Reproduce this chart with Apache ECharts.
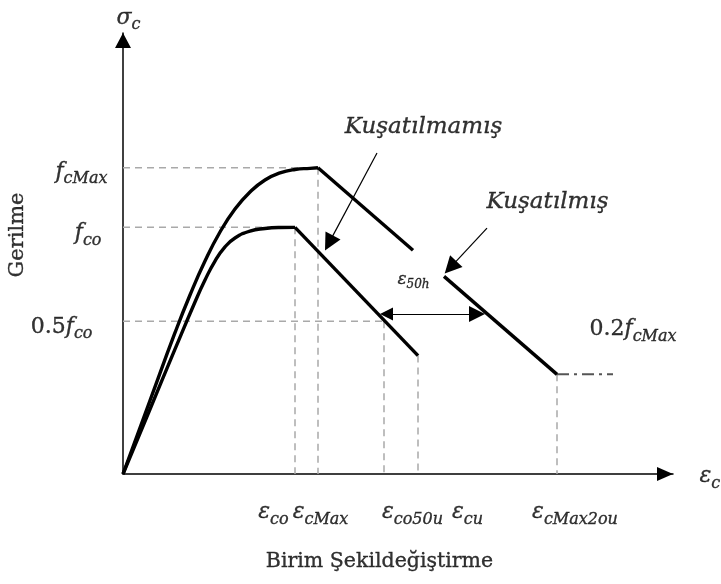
<!DOCTYPE html>
<html>
<head>
<meta charset="utf-8">
<script src="https://cdn.jsdelivr.net/npm/echarts@6/dist/echarts.min.js"></script>
<style>
  html, body { margin: 0; padding: 0; background: #fff; }
  #chart { width: 721px; height: 584px; }
</style>
</head>
<body>
<div id="chart"></div>
<script>
// Characteristic strains (horizontal axis)
const strainNames  = ['ε_co', 'ε_cMax', 'ε_co50u', 'ε_cu', 'ε_cMax2ou'];
const strainValues = [3.44, 3.90, 5.22, 5.90, 8.68];

// Characteristic stresses (vertical axis)
const stressNames  = ['f_cMax', 'f_co', '0.5f_co', '0.2f_cMax'];
const stressValues = [37.5, 30.2, 18.7, 12.2];

// Unconfined concrete: ascending branch, then linear softening
const unconfinedRiseX = [0, 0.54, 1.04, 1.44, 1.64, 1.84, 2.04, 2.24, 2.54, 2.84, 3.14, 3.44];
const unconfinedRiseY = [0, 7.93, 15.28, 21.06, 23.75, 26.08, 27.8, 28.9, 29.75, 30.06, 30.18, 30.2];
const unconfinedFallX = [3.44, 5.90];
const unconfinedFallY = [30.2, 14.5];

// Confined concrete: ascending branch, softening line (broken around ε50h), residual plateau
const confinedRiseX = [0, 0.54, 1.04, 1.34, 1.64, 1.94, 2.24, 2.54, 2.84, 3.14, 3.44, 3.74, 3.9];
const confinedRiseY = [0, 9.0, 17.3, 21.92, 26.08, 29.63, 32.45, 34.53, 36.0, 36.86, 37.29, 37.43, 37.5];
const confinedFallAX = [3.9, 5.8];
const confinedFallAY = [37.5, 27.4];
const confinedFallBX = [6.42, 8.68];
const confinedFallBY = [24.2, 12.2];
const residualX = [8.68, 9.8];
const residualY = [12.2, 12.2];

// ---------- layout: where the annotations sit (data coordinates) ----------
const strainLabelAt = [3.02, 3.96, 5.8, 6.9, 9.05];
const strainLabelY = -4.8;
const stressLabelAt = [[-0.3, 36.9], [-0.42, 29.4], [-0.6, 17.9], [9.34, 17.6]];

const zip = (xs, ys) => xs.map((x, i) => [x, ys[i]]);

const MATH = 'DejaVu Serif';
const TEXT = 'DejaVu Serif';
const INK = '#000';
// a hairline outline in the text colour gives the glyphs a little more weight
const ink = (o) => Object.assign({ color: INK, textBorderColor: INK, textBorderWidth: 0.35 }, o);
const rich = {
  m:  ink({ fontFamily: MATH, fontStyle: 'italic', fontSize: 22, lineHeight: 30 }),
  n:  ink({ fontFamily: MATH, fontSize: 22, lineHeight: 30 }),
  s:  ink({ fontFamily: MATH, fontStyle: 'italic', fontSize: 16, lineHeight: 16, verticalAlign: 'bottom' }),
  m2: ink({ fontFamily: MATH, fontStyle: 'italic', fontSize: 17, lineHeight: 22 }),
  s2: ink({ fontFamily: MATH, fontStyle: 'italic', fontSize: 12, lineHeight: 12, verticalAlign: 'bottom' }),
  w:  ink({ fontFamily: MATH, fontStyle: 'italic', fontSize: 23, lineHeight: 30 }),
  t:  ink({ fontFamily: TEXT, fontSize: 20.5, lineHeight: 28 }),
  g:  ink({ fontFamily: TEXT, fontSize: 21, lineHeight: 28 })
};

// "0.5f_co" -> upright number, italic symbol, italic subscript
function toRich(name, small) {
  const i = name.indexOf('_');
  const head = i < 0 ? name : name.slice(0, i);
  const sub = i < 0 ? '' : name.slice(i + 1);
  const num = (head.match(/^[0-9.]+/) || [''])[0];
  const sym = head.slice(num.length);
  const m = small ? 'm2' : 'm';
  const s = small ? 's2' : 's';
  let out = '';
  if (num) out += '{n|' + num + '}';
  if (sym) out += '{' + m + '|' + sym + '}';
  if (sub) out += '{' + s + '|' + sub + '}';
  return out;
}

function curve(points, opts) {
  return Object.assign({
    type: 'line',
    data: points,
    symbol: 'none',
    silent: true,
    animation: false,
    lineStyle: { color: '#000', width: 3.4, cap: 'butt', join: 'round' },
    z: 5
  }, opts || {});
}

const guideStyle = { color: '#a9a9a9', width: 1.5, type: [7, 5] };
function guide(points) {
  return curve(points, { lineStyle: guideStyle, z: 2 });
}

// dashed reference lines
const guides = [
  guide([[0, stressValues[0]], [strainValues[1], stressValues[0]]]),
  guide([[0, stressValues[1]], [strainValues[0], stressValues[1]]]),
  guide([[0, stressValues[2]], [strainValues[2], stressValues[2]]]),
  guide([[strainValues[0], stressValues[1]], [strainValues[0], 0]]),
  guide([[strainValues[1], stressValues[0]], [strainValues[1], 0]]),
  guide([[strainValues[2], stressValues[2]], [strainValues[2], 0]]),
  guide([[strainValues[3], unconfinedFallY[1]], [strainValues[3], 0]]),
  guide([[strainValues[4], stressValues[3]], [strainValues[4], 0]])
];

// text annotations
const notes = [];
strainNames.forEach((n, i) => notes.push({
  value: [strainLabelAt[i], strainLabelY], text: toRich(n), align: 'center'
}));
stressNames.forEach((n, i) => notes.push({
  value: stressLabelAt[i], text: toRich(n), align: i < 3 ? 'right' : 'left'
}));
notes.push({ value: [0.12, 55.8], text: toRich('σ_c'), align: 'center' });
notes.push({ value: [11.54, -0.4], text: toRich('ε_c'), align: 'left' });
notes.push({ value: [5.82, 23.7], text: toRich('ε_50h', true), align: 'center' });
notes.push({ value: [6.02, 42.4], text: '{w|Kuşatılmamış}', align: 'center' });
notes.push({ value: [8.5, 33.2], text: '{w|Kuşatılmış}', align: 'center' });
notes.push({ value: [5.14, -10.8], text: '{t|Birim Şekildeğiştirme}', align: 'center' });
notes.push({ value: [-2.1, 29.2], text: '{g|Gerilme}', align: 'center', rotate: 90 });

const noteData = notes.map(n => ({
  value: n.value,
  text: n.text,
  label: { align: n.align, verticalAlign: 'middle', rotate: n.rotate || 0 }
}));

const axisBase = {
  type: 'value',
  axisTick: { show: false },
  axisLabel: { show: false },
  splitLine: { show: false }
};

const option = {
  animation: false,
  backgroundColor: '#fff',
  grid: { left: 123, right: 48, top: 33, bottom: 110, containLabel: false, outerBoundsMode: 'none' },
  xAxis: Object.assign({}, axisBase, {
    min: 0, max: 11,
    axisLine: {
      show: true, onZero: false,
      lineStyle: { color: '#000', width: 1.5 },
      symbol: ['none', 'triangle'], symbolSize: [14, 16], symbolOffset: [0, -8]
    }
  }),
  yAxis: Object.assign({}, axisBase, {
    min: 0, max: 54,
    axisLine: {
      show: true, onZero: false,
      lineStyle: { color: '#000', width: 1.5 },
      symbol: ['none', 'triangle'], symbolSize: [16, 15], symbolOffset: [0, -7.5]
    }
  }),
  series: [
    ...guides,
    curve(zip(unconfinedRiseX, unconfinedRiseY), { smooth: 0.5 }),
    curve(zip(unconfinedFallX, unconfinedFallY)),
    curve(zip(confinedRiseX, confinedRiseY), { smooth: 0.5 }),
    curve(zip(confinedFallAX, confinedFallAY)),
    curve(zip(confinedFallBX, confinedFallBY)),
    curve(zip(residualX, residualY), {
      lineStyle: { color: '#555', width: 2, type: [12, 5, 3, 5] }, z: 3
    }),
    {
      // pointer arrows to the two curves
      type: 'lines',
      coordinateSystem: 'cartesian2d',
      silent: true,
      animation: false,
      symbol: ['none', 'triangle'],
      symbolSize: [13, 17],
      lineStyle: { color: '#000', width: 1.2, opacity: 1, curveness: 0 },
      data: [
        { coords: [[5.08, 39.3], [4.12, 28.3]] },
        { coords: [[7.28, 30.1], [6.55, 25.3]] }
      ],
      z: 6
    },
    {
      // double arrow between the two softening branches
      type: 'lines',
      coordinateSystem: 'cartesian2d',
      silent: true,
      animation: false,
      symbol: ['triangle', 'triangle'],
      symbolSize: [13, 16],
      lineStyle: { color: '#000', width: 1.2, opacity: 1, curveness: 0 },
      data: [{ coords: [[5.27, 19.6], [7.08, 19.6]] }],
      z: 6
    },
    {
      type: 'scatter',
      silent: true,
      animation: false,
      clip: false,
      symbolSize: 1,
      itemStyle: { color: 'rgba(0,0,0,0)' },
      label: {
        show: true,
        position: [0, 0],
        color: INK,
        formatter: p => p.data.text,
        rich: rich
      },
      data: noteData,
      z: 10
    }
  ]
};

const chart = echarts.init(document.getElementById('chart'), null, { renderer: 'canvas' });
chart.setOption(option);
</script>
</body>
</html>
